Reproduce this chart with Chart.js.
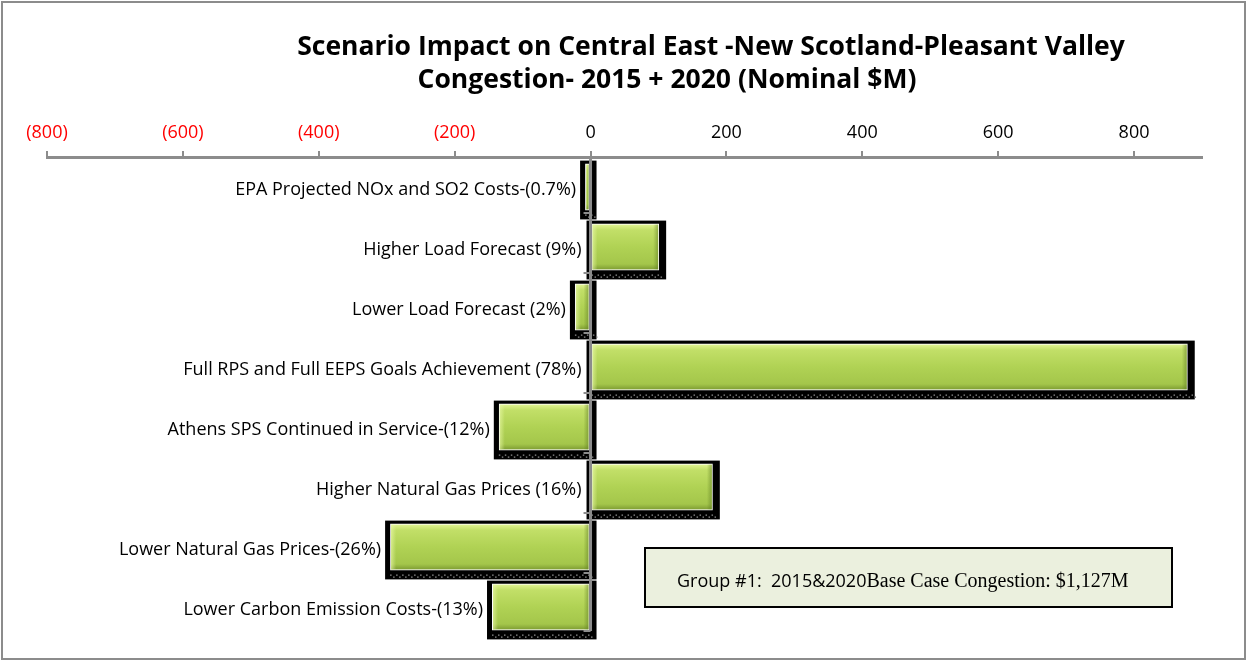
<!DOCTYPE html>
<html lang="en">
<head>
    <meta charset="UTF-8">
    <title>Scenario Impact on Central East Congestion</title>
    <script src="https://cdn.jsdelivr.net/npm/chart.js"></script>
    <style>
        html, body { margin: 0; padding: 0; background: #fff; }
        #wrap { width: 1247px; height: 661px; position: relative; }
    </style>
</head>
<body>
    <div id="wrap"><canvas id="chart" width="1247" height="661"></canvas></div>

    <script>
        // scenario labels and impact in $M (nominal, 2015 + 2020)
        const categories = [
            "EPA Projected NOx and SO2 Costs-(0.7%)",
            "Higher Load Forecast (9%)",
            "Lower Load Forecast (2%)",
            "Full RPS and Full EEPS Goals Achievement (78%)",
            "Athens SPS Continued in Service-(12%)",
            "Higher Natural Gas Prices (16%)",
            "Lower Natural Gas Prices-(26%)",
            "Lower Carbon Emission Costs-(13%)"
        ];
        const impact = [-8, 101, -23, 879, -135, 180, -295, -145];

        const axisMin = -800;
        const axisMax = 900;
        const axisStep = 200;

        const titleLines = [
            "Scenario Impact on Central East -New Scotland-Pleasant Valley",
            "Congestion- 2015 + 2020 (Nominal $M)"
        ];
        const noteSans = "Group #1:  2015&2020";
        const noteSerif = "Base Case Congestion: $1,127M";

        const GRAY = '#8c8c8c';
        const FONT = '"Open Sans"';

        function fmtTick(v) {
            return v < 0 ? '(' + Math.abs(v) + ')' : String(v);
        }

        const barDecor = {
            id: 'barDecor',
            beforeDraw(chart) {
                const ctx = chart.ctx;
                ctx.save();
                ctx.fillStyle = '#fff';
                ctx.fillRect(0, 0, chart.width, chart.height);
                ctx.restore();
            },
            beforeDatasetsDraw(chart) {
                const ctx = chart.ctx;
                ctx.save();
                chart.getDatasetMeta(0).data.forEach(bar => {
                    const p = bar.getProps(['x', 'y', 'base', 'height'], true);
                    const l = Math.min(p.x, p.base), r = Math.max(p.x, p.base);
                    const t = p.y - p.height / 2, b = p.y + p.height / 2;
                    ctx.fillStyle = '#000';
                    ctx.fillRect(l - 5, t - 3, (r - l) + 12, p.height + 12);
                    // dotted texture on the shadow
                    ctx.fillStyle = '#777';
                    for (let x = l; x < r + 4; x += 6) {
                        ctx.fillRect(x, b + 4, 1.5, 1.5);
                        ctx.fillRect(x + 3, b + 6, 1.5, 1.5);
                    }
                });
                ctx.restore();
            },
            afterDatasetsDraw(chart) {
                const ctx = chart.ctx;
                const area = chart.chartArea;
                const x0 = chart.scales.x.getPixelForValue(0);
                ctx.save();
                // bevel gradient over each bar
                chart.getDatasetMeta(0).data.forEach(bar => {
                    const p = bar.getProps(['x', 'y', 'base', 'height'], true);
                    const l = Math.min(p.x, p.base) + 1, r = Math.max(p.x, p.base) - 1;
                    const t = p.y - p.height / 2 + 1, b = p.y + p.height / 2 - 1;
                    if (r - l < 1) return;
                    const g = ctx.createLinearGradient(0, t, 0, b);
                    g.addColorStop(0, '#e0f391');
                    g.addColorStop(0.12, '#c2df68');
                    g.addColorStop(0.5, '#b0d254');
                    g.addColorStop(0.88, '#a4c64b');
                    g.addColorStop(1, '#7f9e33');
                    ctx.fillStyle = g;
                    ctx.fillRect(l, t, r - l, b - t);
                    const gs = ctx.createLinearGradient(l, 0, r, 0);
                    const e = Math.min(0.5, 5 / (r - l));
                    gs.addColorStop(0, 'rgba(235,250,170,0.6)');
                    gs.addColorStop(e, 'rgba(235,250,170,0)');
                    gs.addColorStop(1 - e, 'rgba(90,120,30,0)');
                    gs.addColorStop(1, 'rgba(90,120,30,0.5)');
                    ctx.fillStyle = gs;
                    ctx.fillRect(l, t, r - l, b - t);
                });

                // zero axis with category ticks
                const n = categories.length;
                const band = (area.bottom - area.top) / n;
                ctx.strokeStyle = GRAY;
                ctx.lineWidth = 3;
                ctx.beginPath();
                ctx.moveTo(x0, area.top);
                ctx.lineTo(x0, area.bottom - 6);
                ctx.stroke();
                ctx.lineWidth = 2;
                for (let k = 1; k <= n; k++) {
                    const y = Math.min(area.top + band * k - 4, area.bottom - 6);
                    ctx.beginPath();
                    ctx.moveTo(x0 - 7, y);
                    ctx.lineTo(x0, y);
                    ctx.stroke();
                }

                // category labels beside the bars
                ctx.fillStyle = '#000';
                ctx.font = '18px ' + FONT;
                ctx.textAlign = 'right';
                ctx.textBaseline = 'middle';
                chart.getDatasetMeta(0).data.forEach((bar, i) => {
                    const p = bar.getProps(['x', 'y', 'base'], true);
                    const edge = Math.min(p.x, p.base, x0) - 9;
                    ctx.fillText(categories[i], edge, area.top + band * (i + 0.5) + 3);
                });
                ctx.restore();
            },
            afterDraw(chart) {
                const ctx = chart.ctx;
                ctx.save();
                // title, sized so the first line spans like the original
                ctx.fillStyle = '#000';
                ctx.font = 'bold 26px ' + FONT;
                const tw = ctx.measureText(titleLines[0]).width;
                const ts = Math.min(28, 26 * 827 / tw);
                ctx.font = 'bold ' + ts.toFixed(1) + 'px ' + FONT;
                ctx.textAlign = 'center';
                ctx.textBaseline = 'middle';
                ctx.fillText(titleLines[0], 711, 47);
                ctx.fillText(titleLines[1], 667, 80);

                // base case note
                ctx.fillStyle = '#ebf0de';
                ctx.fillRect(645, 548, 527, 59);
                ctx.strokeStyle = '#000';
                ctx.lineWidth = 2;
                ctx.strokeRect(645, 548, 527, 59);
                ctx.fillStyle = '#000';
                ctx.textAlign = 'left';
                ctx.textBaseline = 'alphabetic';
                ctx.font = '18px ' + FONT;
                ctx.fillText(noteSans, 677, 587);
                const w = ctx.measureText(noteSans).width;
                ctx.font = '20px "Liberation Serif"';
                ctx.fillText(noteSerif, 677 + w, 587);

                // outer frame
                ctx.strokeStyle = GRAY;
                ctx.lineWidth = 2;
                ctx.strokeRect(2, 2, chart.width - 4, chart.height - 4);
                ctx.restore();
            }
        };

        new Chart(document.getElementById('chart'), {
            type: 'bar',
            data: {
                labels: categories,
                datasets: [{
                    data: impact,
                    backgroundColor: '#a8cc4e',
                    borderColor: '#ffffff',
                    borderWidth: 2,
                    borderSkipped: false,
                    barPercentage: 0.78,
                    categoryPercentage: 1
                }]
            },
            options: {
                indexAxis: 'y',
                responsive: false,
                animation: false,
                devicePixelRatio: 1,
                layout: { padding: { left: 47, right: 45, top: 100, bottom: 24 } },
                plugins: {
                    legend: { display: false },
                    tooltip: { enabled: false }
                },
                scales: {
                    x: {
                        position: 'top',
                        min: axisMin,
                        max: axisMax,
                        ticks: {
                            stepSize: axisStep,
                            includeBounds: false,
                            padding: 7,
                            font: { family: 'Open Sans', size: 18 },
                            color: c => c.tick && c.tick.value < 0 ? '#ff0000' : '#000000',
                            callback: v => fmtTick(v)
                        },
                        grid: {
                            drawOnChartArea: false,
                            drawTicks: true,
                            tickLength: 6,
                            color: GRAY,
                            lineWidth: 2
                        },
                        border: { color: GRAY, width: 3 },
                        afterFit: s => { s.height = 57; }
                    },
                    y: {
                        display: false
                    }
                }
            },
            plugins: [barDecor]
        });
    </script>
</body>
</html>
